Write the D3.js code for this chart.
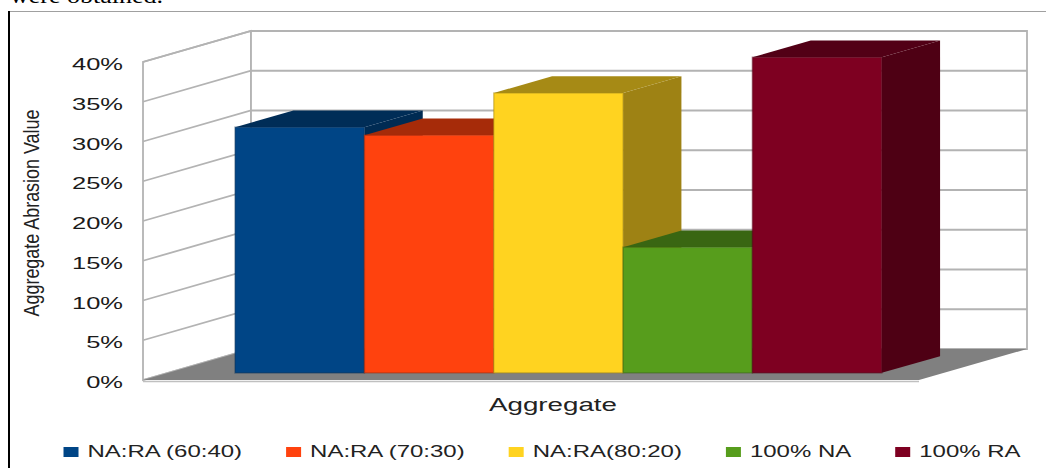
<!DOCTYPE html>
<html>
<head>
<meta charset="utf-8">
<script src="https://cdn.jsdelivr.net/npm/d3@7"></script>
<style>
body { margin: 0; background: #fff; }
svg { display: block; }
</style>
</head>
<body>
<div id="chart"></div>
<script>
// data
const category = ["Aggregate"];
const seriesNames = ["NA:RA (60:40)", "NA:RA (70:30)", "NA:RA(80:20)", "100% NA", "100% RA"];
const seriesValues = [0.309, 0.299, 0.352, 0.158, 0.397];
const seriesColors = ["#004586", "#ff420e", "#ffd320", "#579d1c", "#7e0021"];
const yTicks = [0, 0.05, 0.10, 0.15, 0.20, 0.25, 0.30, 0.35, 0.40];

const width = 1046, height = 468;
const DX = 108, DY = 31;          // depth vector of the 3d box
const barDepth = [0.23, 0.77];    // bars sit in the middle of the box
const sx = 1.5;                   // the picture is stretched sideways
const font = "'Liberation Sans', Arial, sans-serif";

const svg = d3.select("#chart").append("svg")
  .attr("width", width)
  .attr("height", height);

// clipped sentence from the page above the chart
svg.append("text")
  .attr("x", 10).attr("y", 3)
  .attr("textLength", 153).attr("lengthAdjust", "spacingAndGlyphs")
  .style("font-family", "'Liberation Serif', serif")
  .style("font-size", "20px")
  .attr("fill", "#000")
  .text("were obtained.");

// frame
svg.append("line").attr("x1", 8).attr("x2", width).attr("y1", 11.5).attr("y2", 11.5)
  .attr("stroke", "#a0a0a0").attr("stroke-width", 1);
svg.append("line").attr("x1", 9).attr("x2", 9).attr("y1", 11).attr("y2", height)
  .attr("stroke", "#000").attr("stroke-width", 2);

const y = d3.scaleLinear().domain([0, 0.4]).range([380, 62]);
const xCat = d3.scaleBand().domain(category).range([143, 919])
  .paddingOuter(0.1).paddingInner(0).align(0.52);
const x = d3.scaleBand().domain(seriesNames)
  .range([xCat(category[0]), xCat(category[0]) + xCat.bandwidth()])
  .padding(0);

const x0 = xCat.range()[0], x1 = xCat.range()[1];
const ymax = y.domain()[1];

function proj(px, v, d) {
  return [px + d * DX, y(v) - d * DY];
}
function poly(pts) {
  return "M" + pts.map(p => p.join(",")).join("L") + "Z";
}

const gridColor = "#b3b3b3";

// walls
svg.append("path")
  .attr("d", poly([proj(x0, 0, 0), proj(x0, ymax, 0), proj(x0, ymax, 1), proj(x0, 0, 1)]))
  .attr("fill", "#fff").attr("stroke", gridColor).attr("stroke-width", 1.8);
svg.append("path")
  .attr("d", poly([proj(x0, 0, 1), proj(x0, ymax, 1), proj(x1, ymax, 1), proj(x1, 0, 1)]))
  .attr("fill", "#fff").attr("stroke", gridColor).attr("stroke-width", 1.8);

// grid lines on both walls
svg.append("g").selectAll("path")
  .data(yTicks)
  .enter()
  .append("path")
  .attr("d", d => "M" + [proj(x0, d, 0), proj(x0, d, 1), proj(x1, d, 1)].map(p => p.join(",")).join("L"))
  .attr("fill", "none")
  .attr("stroke", gridColor)
  .attr("stroke-width", 1.8);

// floor
svg.append("path")
  .attr("d", poly([proj(x0, 0, 0), proj(x1, 0, 0), proj(x1, 0, 1), proj(x0, 0, 1)]))
  .attr("fill", "#808080");
svg.append("line")
  .attr("x1", x0).attr("x2", x1)
  .attr("y1", y(0) + 1.5).attr("y2", y(0) + 1.5)
  .attr("stroke", "#c0c0c0").attr("stroke-width", 1.5);

// bars
const bars = svg.append("g").selectAll("g")
  .data(seriesNames)
  .enter()
  .append("g");

bars.each(function(name, i) {
  const g = d3.select(this);
  const v = seriesValues[i];
  const bx0 = x(name), bx1 = x(name) + x.bandwidth();
  const base = d3.color(seriesColors[i]);
  const dark = base.darker(1.2);
  const [d0, d1] = barDepth;

  // right side
  g.append("path")
    .attr("d", poly([proj(bx1, 0, d0), proj(bx1, v, d0), proj(bx1, v, d1), proj(bx1, 0, d1)]))
    .attr("fill", base.darker(1.35));
  // top
  g.append("path")
    .attr("d", poly([proj(bx0, v, d0), proj(bx1, v, d0), proj(bx1, v, d1), proj(bx0, v, d1)]))
    .attr("fill", dark);
  // front
  const p0 = proj(bx0, v, d0), p1 = proj(bx1, 0, d0);
  g.append("rect")
    .attr("x", p0[0]).attr("y", p0[1])
    .attr("width", p1[0] - p0[0]).attr("height", p1[1] - p0[1])
    .attr("fill", base)
    .attr("stroke", dark).attr("stroke-opacity", 0.45).attr("stroke-width", 1.5);
});

// y tick labels
svg.append("g").selectAll("text")
  .data(yTicks)
  .enter()
  .append("text")
  .attr("transform", d => `translate(123,${y(d) + 8}) scale(${sx},1)`)
  .attr("text-anchor", "end")
  .style("font-family", font)
  .style("font-size", "17px")
  .attr("fill", "#1a1a1a")
  .text(d => d3.format(".0%")(d));

// axis titles
svg.append("text")
  .attr("transform", `translate(39,213) scale(1.2,1) rotate(-90)`)
  .attr("text-anchor", "middle")
  .attr("textLength", 207).attr("lengthAdjust", "spacingAndGlyphs")
  .style("font-family", font)
  .style("font-size", "18px")
  .attr("fill", "#222")
  .text("Aggregate Abrasion Value");

svg.append("text")
  .attr("transform", `translate(553,411) scale(1.46,1)`)
  .attr("text-anchor", "middle")
  .style("font-family", font)
  .style("font-size", "19px")
  .attr("fill", "#222")
  .text(category[0]);

// legend
const legend = svg.append("g");
const items = legend.selectAll("g")
  .data(seriesNames)
  .enter()
  .append("g");
items.append("rect")
  .attr("width", 15).attr("height", 10)
  .attr("y", -10)
  .attr("fill", (d, i) => seriesColors[i]);
items.append("text")
  .attr("transform", `translate(24,0) scale(${sx},1)`)
  .style("font-family", font)
  .style("font-size", "16px")
  .attr("fill", "#222")
  .text(d => d);

let cursor = 0;
const offsets = [];
items.each(function() {
  const w = d3.select(this).select("text").node().getComputedTextLength() * sx;
  offsets.push(cursor);
  cursor += 24 + w + 44;
});
const total = cursor - 44;
const startX = 542 - total / 2;
items.attr("transform", (d, i) => `translate(${startX + offsets[i]},457)`);
</script>
</body>
</html>
